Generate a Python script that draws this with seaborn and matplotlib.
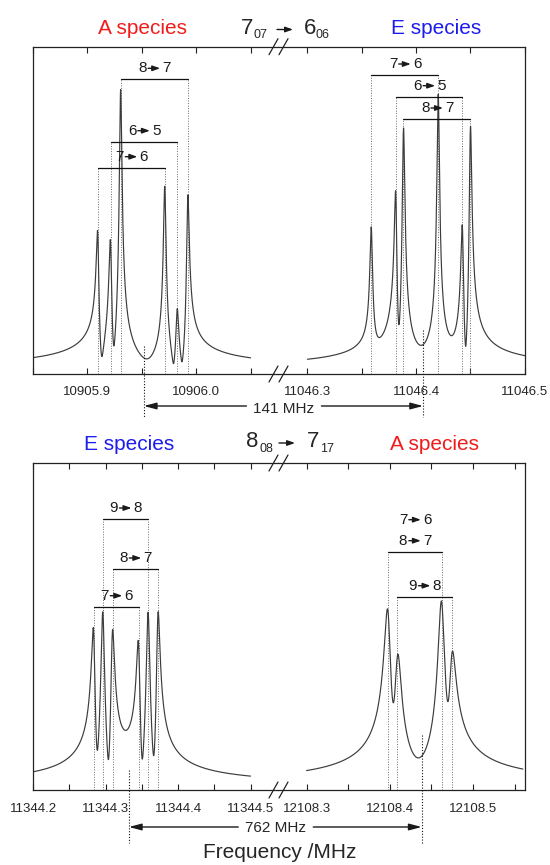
import numpy as np
import pandas as pd
import matplotlib
matplotlib.use("Agg")
import matplotlib.pyplot as plt
import matplotlib.patches
import matplotlib.transforms as mtrans
from matplotlib.lines import Line2D
from matplotlib.ticker import MultipleLocator, FormatStrFormatter
import seaborn as sns

# ================= DATA =================
# upper spectrum : 7_07 -> 6_06   (left = A species, right = E species)
up_A_freq  = [10905.9096, 10905.9213, 10905.9305, 10905.9711, 10905.9825, 10905.9922]
up_A_int   = [133, 123, 283, 190, 62, 175]
up_A_phase = [0, 0, 0, 35, 35, 35]
up_E_freq  = [11046.3588, 11046.3814, 11046.3884, 11046.4204, 11046.4427, 11046.4500]
up_E_int   = [166, 163, 232, 280, 150, 249]
up_E_phase = [0, 90, 90, 0, 90, 90]
# lower spectrum : 8_08 -> 7_17   (left = E species, right = A species)
lo_E_freq  = [11344.2836, 11344.2960, 11344.3090, 11344.3457, 11344.3586, 11344.3719]
lo_E_int   = [152, 184, 162, 149, 184, 172]
lo_E_phase = [0, 0, 0, 90, 90, 90]
lo_A_freq  = [12108.3980, 12108.4092, 12108.4623, 12108.4743]
lo_A_int   = [168, 122, 190, 106]
lo_A_phase = [0, 0, 60, 60]

# line half widths (MHz) and recorded windows (MHz)
up_A_hwhm, up_E_hwhm = 0.0012, 0.0012
lo_E_hwhm, lo_A_hwhm = 0.0025, 0.0041
up_A_span = [10905.85, 10906.05]
up_E_span = [11046.30, 11046.50]
lo_E_span = [11344.20, 11344.50]
lo_A_span = [12108.30, 12108.56]

# hyperfine assignments, bracket ends and bracket levels
up_A_hf  = ["8→7", "6→5", "7→6"]
up_A_lo  = [10905.9305, 10905.9213, 10905.9096]
up_A_hi  = [10905.9922, 10905.9825, 10905.9711]
up_A_lvl = [290.7, 228.3, 202.3]
up_E_hf  = ["7→6", "6→5", "8→7"]
up_E_lo  = [11046.3588, 11046.3814, 11046.3884]
up_E_hi  = [11046.4204, 11046.4427, 11046.4500]
up_E_lvl = [295.0, 273.3, 251.0]
lo_E_hf  = ["9→8", "8→7", "7→6"]
lo_E_lo  = [11344.2960, 11344.3098, 11344.2836]
lo_E_hi  = [11344.3586, 11344.3719, 11344.3457]
lo_E_lvl = [268.0, 218.0, 180.3]
lo_A_hf  = ["7→6\n8→7", "9→8"]
lo_A_lo  = [12108.3980, 12108.4092]
lo_A_hi  = [12108.4623, 12108.4743]
lo_A_lvl = [235.3, 190.3]

# unsplit centre frequencies and their separations
up_centre = [10905.9519, 11046.4064]
lo_centre = [11344.3321, 12108.4383]
up_sep = "141 MHz"
lo_sep = "762 MHz"

# ================= STYLE =================
sns.set_theme(style="ticks")
plt.rcParams["font.family"] = ["Liberation Sans", "DejaVu Sans"]
plt.rcParams["axes.edgecolor"] = "#222222"
plt.rcParams["axes.linewidth"] = 0.9

W, H = 550, 865
fig = plt.figure(figsize=(W / 100, H / 100), dpi=100)
fig.patch.set_facecolor("white")

RED, BLUE = "#ee1c1c", "#1c1cee"
LINE = "#3c3c3c"
DOT = (0, (1, 1.6))


def add_ax(x0, x1, ytop, ybot):
    return fig.add_axes([x0 / W, 1 - ybot / H, (x1 - x0) / W, (ybot - ytop) / H])


def spectrum(freqs, ints, phases, hwhm, span):
    f = np.linspace(span[0], span[1], 5000)
    z = np.zeros_like(f, dtype=complex)
    for f0, a, ph in zip(freqs, ints, phases):
        z += a * np.exp(1j * np.radians(ph)) * hwhm / (hwhm + 1j * (f - f0))
    return pd.DataFrame({"Frequency": f, "Intensity": np.abs(z)})


def style_ax(ax, xlim, ylim, side, pad):
    ax.set_xlim(*xlim)
    ax.set_ylim(*ylim)
    ax.set_yticks([])
    ax.set_xlabel("")
    ax.set_ylabel("")
    ax.xaxis.set_major_locator(MultipleLocator(0.1))
    ax.xaxis.set_minor_locator(MultipleLocator(0.05))
    ax.xaxis.set_major_formatter(FormatStrFormatter("%.1f"))
    ax.tick_params(axis="x", which="both", direction="in", top=True, bottom=True,
                   length=4.5, width=0.8, color="#222222", labelsize=9.5, pad=pad)
    if side == "left":
        ax.spines["right"].set_visible(False)
    else:
        ax.spines["left"].set_visible(False)
    ax.set_facecolor("white")


def arrow_label(ax, x, y, text, fs=11):
    a, b = text.split("→")
    base = ax.transData
    ax.text(x, y, a, transform=mtrans.offset_copy(base, fig=fig, x=-7.5, units="dots"),
            ha="right", va="center", fontsize=fs, color="k")
    ax.text(x, y, b, transform=mtrans.offset_copy(base, fig=fig, x=8, units="dots"),
            ha="left", va="center", fontsize=fs, color="k")
    ax.annotate("", xy=(x, y), xycoords=mtrans.offset_copy(base, fig=fig, x=6, units="dots"),
                xytext=(x, y), textcoords=mtrans.offset_copy(base, fig=fig, x=-6, units="dots"),
                arrowprops=dict(arrowstyle="-|>,head_length=0.45,head_width=0.16",
                                mutation_scale=10, color="k", lw=1.0, shrinkA=0, shrinkB=0),
                annotation_clip=False)


def brackets(ax, labels, los, his, lvls, ybot):
    for lab, a, b, y in zip(labels, los, his, lvls):
        for x in (a, b):
            ax.plot([x, x], [ybot, y], ls=DOT, color="#6a6a6a", lw=0.7, zorder=1)
        ax.plot([a, b], [y, y], color="#111111", lw=0.9, zorder=3)
        rows = lab.split("\n")[::-1]
        for i, r in enumerate(rows):
            arrow_label(ax, (a + b) / 2, y + 11 + 21 * i, r)


def draw_panel(ytop, ybot, zero_px, lims, segs, centres, centre_tops, sep, arrow_y, sep_y,
               line_bottom, pad):
    ylim = (zero_px - ybot, zero_px - ytop)
    axL = add_ax(33, 278, ytop, ybot)
    axR = add_ax(278, 525, ytop, ybot)
    axes = [axL, axR]
    for ax, lim, side, seg in zip(axes, lims, ["left", "right"], segs):
        freqs, ints, phases, hw, span, hf, blo, bhi, blvl = seg
        df = spectrum(freqs, ints, phases, hw, span)
        brackets(ax, hf, blo, bhi, blvl, ylim[0])
        sns.lineplot(data=df, x="Frequency", y="Intensity", ax=ax, color=LINE,
                     lw=0.85, estimator=None, sort=False, zorder=2)
        style_ax(ax, lim, ylim, side, pad)
    # centre lines
    for ax, c, top in zip(axes, centres, centre_tops):
        ax.plot([c, c], [zero_px - top, zero_px - line_bottom], ls=DOT, color="#111111",
                lw=0.8, clip_on=False, zorder=4)
    # separation arrows (figure pixels)
    xl = axL.transData.transform((centres[0], 0))[0]
    xr = axR.transData.transform((centres[1], 0))[0]
    mid = (xl + xr) / 2
    ya = H - arrow_y
    aprops = dict(arrowstyle="-|>,head_length=0.75,head_width=0.2", mutation_scale=10,
                  color="k", lw=1.0, shrinkA=0, shrinkB=0)
    axL.annotate("", xy=(xl, ya), xycoords="figure pixels", xytext=(mid - 37, ya),
                 textcoords="figure pixels", arrowprops=aprops, annotation_clip=False)
    axL.annotate("", xy=(xr, ya), xycoords="figure pixels", xytext=(mid + 38, ya),
                 textcoords="figure pixels", arrowprops=aprops, annotation_clip=False)
    fig.text(mid / W, 1 - sep_y / H, sep, ha="center", va="center", fontsize=11)
    # axis-break marks
    for yy in (ytop, ybot):
        for cx in (273.5, 283.5):
            fig.add_artist(Line2D([(cx - 4.5) / W, (cx + 4.5) / W],
                                  [1 - (yy + 8) / H, 1 - (yy - 8) / H],
                                  color="#222222", lw=0.9))
    return axL, axR


# ---------- upper panel ----------
draw_panel(46.7, 374.0, 370.0,
           [(10905.85, 10906.0752), (11046.2729, 11046.5003)],
           [(up_A_freq, up_A_int, up_A_phase, up_A_hwhm, up_A_span, up_A_hf, up_A_lo, up_A_hi, up_A_lvl),
            (up_E_freq, up_E_int, up_E_phase, up_E_hwhm, up_E_span, up_E_hf, up_E_lo, up_E_hi, up_E_lvl)],
           up_centre, [346, 330], up_sep, 406, 409, 417, 8.5)

# ---------- lower panel ----------
draw_panel(463.0, 790.0, 787.0,
           [(11344.1997, 11344.5379), (12108.2656, 12108.5626)],
           [(lo_E_freq, lo_E_int, lo_E_phase, lo_E_hwhm, lo_E_span, lo_E_hf, lo_E_lo, lo_E_hi, lo_E_lvl),
            (lo_A_freq, lo_A_int, lo_A_phase, lo_A_hwhm, lo_A_span, lo_A_hf, lo_A_lo, lo_A_hi, lo_A_lvl)],
           lo_centre, [770, 735], lo_sep, 827, 828, 843, 9.5)


# ---------- titles ----------
def ftext(x, y, s, **kw):
    fig.text(x / W, 1 - y / H, s, **kw)


def small_arrow(x0, x1, y):
    fig.add_artist(matplotlib.patches.FancyArrowPatch(
        (x0 / W, 1 - y / H), (x1 / W, 1 - y / H), transform=fig.transFigure,
        arrowstyle="-|>,head_length=0.45,head_width=0.16", mutation_scale=10,
        color="k", lw=1.0, shrinkA=0, shrinkB=0))


ftext(142, 28.5, "A species", color=RED, fontsize=15, ha="center", va="center")
ftext(436, 28.5, "E species", color=BLUE, fontsize=15, ha="center", va="center")
ftext(247, 29, "7", fontsize=16, ha="center", va="center")
ftext(253, 35.5, "07", fontsize=9, ha="left", va="center")
small_arrow(277, 293, 29.5)
ftext(310, 29, "6", fontsize=16, ha="center", va="center")
ftext(316, 35.5, "06", fontsize=9, ha="left", va="center")

ftext(129, 445, "E species", color=BLUE, fontsize=15, ha="center", va="center")
ftext(434, 445, "A species", color=RED, fontsize=15, ha="center", va="center")
ftext(252, 442, "8", fontsize=16, ha="center", va="center")
ftext(260, 448.5, "08", fontsize=9, ha="left", va="center")
small_arrow(279, 295, 443)
ftext(313, 442, "7", fontsize=16, ha="center", va="center")
ftext(320, 448.5, "17", fontsize=9, ha="left", va="center")

ftext(280, 853, "Frequency /MHz", fontsize=15, ha="center", va="center")

fig.savefig("out.png", dpi=100, facecolor="white")
